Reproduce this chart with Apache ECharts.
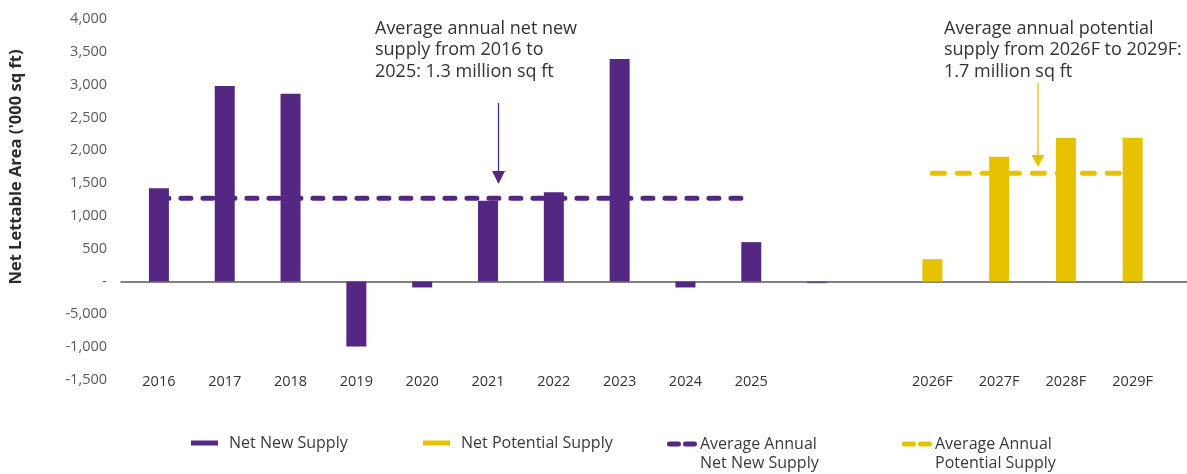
<!DOCTYPE html>
<html>
<head>
<meta charset="utf-8">
<script src="https://cdn.jsdelivr.net/npm/echarts@6/dist/echarts.min.js"></script>
<style>
  html, body { margin: 0; padding: 0; background: #fff; }
  #chart { width: 1187px; height: 474px; }
</style>
</head>
<body>
<div id="chart"></div>
<script>
// Historical years (last slot holds a small unlabelled entry)
const actualYears = ['2016', '2017', '2018', '2019', '2020', '2021', '2022', '2023', '2024', '2025', ''];
const netNewSupply = [1420, 2980, 2860, -990, -90, 1230, 1360, 3390, -90, 600, null];
const otherSupply = [null, null, null, null, null, null, null, null, null, null, -25];
const avgNetNewSupply = [1270, 1270, 1270, 1270, 1270, 1270, 1270, 1270, 1270, 1270, null];

// Forecast years
const forecastYears = ['2026F', '2027F', '2028F', '2029F'];
const netPotentialSupply = [340, 1900, 2190, 2190];
const avgPotentialSupply = [1650, 1650, 1650, 1650];

// Value axis ticks and their printed labels
const yTickValues = [-1500, -1000, -500, 0, 500, 1000, 1500, 2000, 2500, 3000, 3500, 4000];
const yTickLabels = ['-1,500', '-1,000', '-5,000', '-', '500', '1,000', '1,500', '2,000', '2,500', '3,000', '3,500', '4,000'];

const PURPLE = '#532782';
const YELLOW = '#E6C200';
const FONT = 'Open Sans';

const dashIcon = 'path://M2.5,0 H11.5 A2.5,2.5 0 0 1 11.5,5 H2.5 A2.5,2.5 0 0 1 2.5,0 Z M18.5,0 H27.5 A2.5,2.5 0 0 1 27.5,5 H18.5 A2.5,2.5 0 0 1 18.5,0 Z';

const chart = echarts.init(document.getElementById('chart'), null, { renderer: 'canvas' });

const yBase = { type: 'value', min: -1500, max: 4000, interval: 500, splitLine: { show: false } };
const gridTop = 19, gridHeight = 361;

// One legend block per entry; two-line entries get a blank leading line so
// the first line of text sits level with the icon.
function legendBlock(name, left, top, icon, multiline) {
  return {
    show: true,
    left: left,
    top: top,
    padding: 0,
    orient: 'horizontal',
    data: [{ name: name, icon: icon }],
    itemWidth: icon === 'rect' ? 27 : 30,
    itemHeight: 5,
    selectedMode: false,
    formatter: multiline ? (n => ' \n' + n) : (n => n),
    textStyle: {
      fontFamily: FONT,
      fontSize: 16,
      color: '#3a3a3a',
      lineHeight: 19,
      padding: multiline ? [0, 0, 0, -2] : [0, 0, 0, 6]
    }
  };
}

const gridCommon = { containLabel: false, outerBoundsMode: 'none' };

const option = {
  animation: false,
  backgroundColor: '#fff',
  textStyle: { fontFamily: FONT },
  grid: [
    Object.assign({ left: 126, top: gridTop, width: 724, height: gridHeight }, gridCommon),
    Object.assign({ left: 899, top: gridTop, width: 267, height: gridHeight }, gridCommon),
    Object.assign({ left: 121, top: gridTop, width: 1066, height: gridHeight }, gridCommon)
  ],
  xAxis: [
    {
      type: 'category', gridIndex: 0, data: actualYears,
      axisLine: { show: false, onZero: false }, axisTick: { show: false },
      axisLabel: { fontFamily: FONT, fontSize: 14.5, color: '#333', margin: 2, verticalAlign: 'middle' }
    },
    {
      type: 'category', gridIndex: 1, data: forecastYears,
      axisLine: { show: false, onZero: false }, axisTick: { show: false },
      axisLabel: { fontFamily: FONT, fontSize: 14.5, color: '#333', margin: 2, verticalAlign: 'middle' }
    },
    {
      type: 'category', gridIndex: 2, data: [''],
      axisLine: { show: true, onZero: true, lineStyle: { color: '#5a5a5a', width: 1.5 } },
      axisTick: { show: false }, axisLabel: { show: false }
    }
  ],
  yAxis: [
    Object.assign({}, yBase, {
      gridIndex: 0,
      axisLine: { show: false }, axisTick: { show: false },
      axisLabel: {
        fontFamily: FONT, fontSize: 14.5, color: '#595959', margin: 19,
        formatter: v => yTickLabels[yTickValues.indexOf(v)]
      },
      name: "Net Lettable Area ('000 sq ft)",
      nameLocation: 'middle',
      nameGap: 101,
      nameTextStyle: { fontFamily: FONT, fontSize: 16.5, fontWeight: 'bold', color: '#2b2b2b', padding: [0, 0, 0, 65] }
    }),
    Object.assign({}, yBase, { gridIndex: 1, show: false }),
    Object.assign({}, yBase, { gridIndex: 2, show: false })
  ],
  legend: [
    legendBlock('Net New Supply', 191, 433.5, 'rect', false),
    legendBlock('Net Potential Supply', 423, 433.5, 'rect', false),
    legendBlock('Average Annual\nNet New Supply', 667, 415.5, dashIcon, true),
    legendBlock('Average Annual\nPotential Supply', 902, 415.5, dashIcon, true)
  ],
  series: [
    {
      name: 'Net New Supply', type: 'bar', xAxisIndex: 0, yAxisIndex: 0,
      data: netNewSupply, barWidth: 20, barGap: '-100%',
      itemStyle: { color: PURPLE }
    },
    {
      name: 'Other', type: 'bar', xAxisIndex: 0, yAxisIndex: 0,
      data: otherSupply, barWidth: 20, barGap: '-100%',
      itemStyle: { color: '#4b5785' }
    },
    {
      name: 'Net Potential Supply', type: 'bar', xAxisIndex: 1, yAxisIndex: 1,
      data: netPotentialSupply, barWidth: 20,
      itemStyle: { color: YELLOW }
    },
    {
      name: 'Average Annual\nNet New Supply', type: 'line', xAxisIndex: 0, yAxisIndex: 0,
      data: avgNetNewSupply, symbol: 'none', z: 3,
      itemStyle: { color: PURPLE },
      lineStyle: { color: PURPLE, width: 5, type: [10, 12], cap: 'round' }
    },
    {
      name: 'Average Annual\nPotential Supply', type: 'line', xAxisIndex: 1, yAxisIndex: 1,
      data: avgPotentialSupply, symbol: 'none', z: 3,
      itemStyle: { color: YELLOW },
      lineStyle: { color: YELLOW, width: 5, type: [12, 13], cap: 'round' }
    }
  ],
  graphic: [
    {
      type: 'text', left: 375, top: 18,
      style: {
        text: 'Average annual net new\nsupply from 2016 to\n2025: 1.3 million sq ft',
        font: '18px "Open Sans"', fill: '#333', lineHeight: 21.5
      }
    },
    {
      type: 'text', left: 944, top: 18,
      style: {
        text: 'Average annual potential\nsupply from 2026F to 2029F:\n1.7 million sq ft',
        font: '18px "Open Sans"', fill: '#333', lineHeight: 21.5
      }
    },
    { type: 'line', shape: { x1: 498.5, y1: 103, x2: 498.5, y2: 173 }, style: { stroke: PURPLE, lineWidth: 1.3 } },
    { type: 'polygon', shape: { points: [[492, 171], [505, 171], [498.5, 184]] }, style: { fill: PURPLE } },
    { type: 'line', shape: { x1: 1038, y1: 83, x2: 1038, y2: 157 }, style: { stroke: YELLOW, lineWidth: 1.3 } },
    { type: 'polygon', shape: { points: [[1031.5, 155], [1044.5, 155], [1038, 167]] }, style: { fill: YELLOW } }
  ]
};

chart.setOption(option);
</script>
</body>
</html>
